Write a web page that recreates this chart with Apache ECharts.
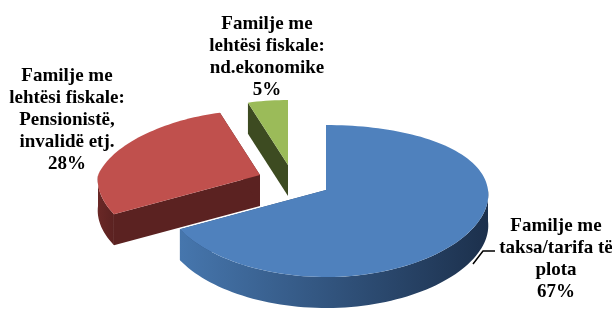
<!DOCTYPE html>
<html>
<head>
<meta charset="utf-8">
<script src="https://cdn.jsdelivr.net/npm/echarts@6/dist/echarts.min.js"></script>
<style>
html, body { margin: 0; padding: 0; background: #fff; }
#chart { width: 612px; height: 309px; }
</style>
</head>
<body>
<div id="chart"></div>
<script>
// data
var categories = [
  'Familje me\ntaksa/tarifa të\nplota',
  'Familje me\nlehtësi fiskale:\nPensionistë,\ninvalidë etj.',
  'Familje me\nlehtësi fiskale:\nnd.ekonomike'
]
var values = [67, 28, 5]

// layout of the tilted pie
var cx = 326, cy = 190, rx = 162, ry = 76, bulge = 11, depth = 31
var offsets = [[0, 0], [-66, -15], [-38, -25]] // exploded slices
var labelPos = [[556, 259], [67, 120], [267, 57]]
var topColors = ['#4f81bd', '#c0504d', '#9bbb59']
var cutColors = ['#2a4a74', '#5b2221', '#3d4b21']
var wallColors = [['#4676ad', '#1c304c'], ['#6a2826', '#5b2221'], ['#46552a', '#3d4b21']]

var total = values.reduce(function(a, b) { return a + b }, 0)
var starts = []
var acc = 0
values.forEach(function(v) { starts.push(acc / total * 360); acc += v })

function proj(u, v, off, dz) {
  // a bit of perspective: near side wider, far-left side a little narrower
  var f = 1 + 0.06 * v
  if (u < 0 && v < 0) f += 0.15 * v
  return [cx + off[0] + rx * u * f, cy + off[1] + ry * v + bulge * v * v + (dz || 0)]
}
function rim(deg, off, dz) {
  var a = deg * Math.PI / 180
  return proj(Math.sin(a), -Math.cos(a), off, dz)
}
function arc(a1, a2, off, dz) {
  var pts = []
  var n = Math.max(2, Math.ceil(Math.abs(a2 - a1) / 2))
  for (var i = 0; i <= n; i++) pts.push(rim(a1 + (a2 - a1) * i / n, off, dz))
  return pts
}

function renderItem(params, api) {
  var i = params.dataIndex
  var a1 = starts[i]
  var a2 = a1 + api.value(0) / total * 360
  var off = offsets[i]
  var base = (values.length - 1 - i) * 10
  var apex = proj(0, 0, off, 0)
  var apexB = proj(0, 0, off, depth)
  var children = []

  // cut faces
  ;[a1, a2].forEach(function(a) {
    children.push({
      type: 'polygon',
      shape: { points: [apex, rim(a, off, 0), rim(a, off, depth), apexB] },
      style: { fill: cutColors[i] },
      z2: base + 1
    })
  })

  // front wall
  var lo = Math.max(a1, 90), hi = Math.min(a2, 270)
  if (lo < hi) {
    var pts = arc(lo, hi, off, 0).concat(arc(hi, lo, off, depth))
    children.push({
      type: 'polygon',
      shape: { points: pts },
      style: {
        fill: new echarts.graphic.LinearGradient(0, 0, 1, 0, [
          { offset: 0, color: wallColors[i][0] },
          { offset: 1, color: wallColors[i][1] }
        ])
      },
      z2: base + 2
    })
  }

  // top face
  children.push({
    type: 'polygon',
    shape: { points: [apex].concat(arc(a1, a2, off, 0)) },
    style: { fill: topColors[i] },
    z2: base + 3
  })

  // label
  children.push({
    type: 'text',
    style: {
      text: categories[i] + '\n' + Math.round(api.value(0) / total * 100) + '%',
      x: labelPos[i][0],
      y: labelPos[i][1],
      font: 'bold 19px "Liberation Serif"',
      fill: '#000',
      align: 'center',
      verticalAlign: 'middle',
      textAlign: 'center',
      textVerticalAlign: 'middle',
      lineHeight: 22
    },
    z2: 100
  })

  return { type: 'group', children: children }
}

var chart = echarts.init(document.getElementById('chart'))
chart.setOption({
  animation: false,
  series: [{
    type: 'custom',
    coordinateSystem: 'none',
    renderItem: renderItem,
    data: values
  }],
  graphic: [{
    type: 'polyline',
    shape: { points: [[473, 264], [483, 251], [495, 251]] },
    style: { stroke: '#000', lineWidth: 1.5, fill: null },
    z: 10
  }]
})
</script>
</body>
</html>
